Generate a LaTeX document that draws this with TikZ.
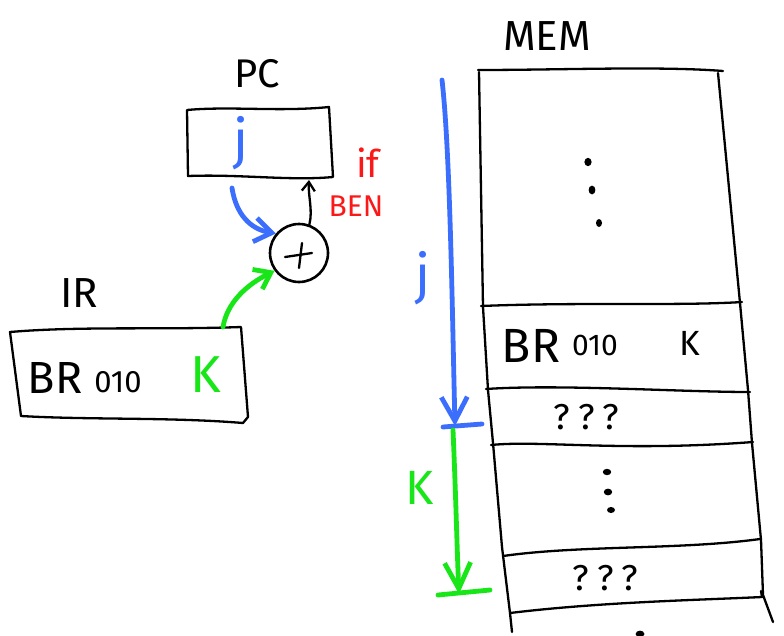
\documentclass[tikz,border=0pt]{standalone}
\usepackage{fontspec}
\setmainfont{Fira Sans}
\usetikzlibrary{arrows.meta,calc}
\definecolor{penblue}{RGB}{59,110,252}
\definecolor{pengreen}{RGB}{24,230,24}
\definecolor{penred}{RGB}{250,24,24}
\tikzset{
  ink/.style={line width=2.3pt, line cap=round, line join=round},
  thickpen/.style={line width=4.8pt, line cap=round, line join=round},
  lbl/.style={inner sep=0pt, font=\fontsize{#1}{#1}\selectfont},
  hole/.style={draw=none, inner sep=0pt, minimum width=#1},
  dot/.style={fill=black, draw=none},
}
\begin{document}
\begin{tikzpicture}[x=1pt,y=-1pt]
\useasboundingbox (0,0) rectangle (784,635);

% ---------------- PC register ----------------
\node[lbl=40] (pclabel) at (257,74) {PC};
\node[hole=146pt, minimum height=69pt] (pc) at (260,143) {};
\draw[ink] (187,110) .. controls (230,106) and (280,112) .. (329,107)
           -- (333,177) .. controls (290,181) and (240,174) .. (188,176) -- cycle;
\node[lbl=54, text=penblue] (pcj) at (241,143) {j};

% adder
\node[draw, line width=2.6pt, circle, minimum size=58pt, inner sep=0pt] (sum) at (299,253) {};
\draw[ink] (285,257) -- (312,253);
\draw[ink] (302,243) -- (299,268);

% PC -> adder
\coordinate (pcout) at (232,188);
\draw[thickpen, penblue, -{Straight Barb[length=17pt,width=24pt]}]
  (pcout) .. controls (236,214) and (250,229) .. (sum.140);

% adder -> PC
\coordinate (pcin) at (309,180);
\draw[ink, -{Straight Barb[length=9pt,width=13pt]}]
  (sum.70) .. controls (313,210) and (308,196) .. (pcin);
\node[lbl=38, text=penred] (ifl) at (368,163) {if};
\node[lbl=30, text=penred] (benl) at (356,206) {BEN};

% ---------------- IR register ----------------
\node[lbl=42] (irlabel) at (79,293) {IR};
\node[hole=235pt, minimum height=90pt] (ir) at (128,373) {};
\draw[ink] (10,332) .. controls (80,326) and (160,330) .. (241,327)
           -- (248,417) .. controls (246,420) and (244,421) .. (243,423)
           .. controls (170,417) and (90,420) .. (21,416) -- cycle;
\node[lbl=45] (irop) at (55,378) {BR};
\node[lbl=31] (irbits) at (118,382) {010};
\node[lbl=52, text=pengreen] (irk) at (206,375) {K};

% IR offset -> adder
\coordinate (irtap) at (223,327);
\draw[thickpen, pengreen, -{Straight Barb[length=15pt,width=22pt]}]
  (irtap) .. controls (227,303) and (246,285) .. (sum.216);

% ---------------- memory ----------------
\node[lbl=42] (memlabel) at (547,36) {MEM};
\node[hole=260pt, minimum height=560pt] (mem) at (625,350) {};
% column sides
\draw[ink] (479,72) -- (483,307) -- (488,390) -- (493,443) -- (502,547) -- (510,613) -- (512,632);
\draw[ink] (718,73) -- (740,303) -- (748,390) -- (752,443) -- (761,540) -- (763,595) -- (773,622);
% row boundaries
\draw[ink] (478,70) .. controls (560,70) and (660,66) .. (723,71);
\draw[ink] (481,306) .. controls (580,302) and (680,306) .. (742,302);
\draw[ink] (486,389) .. controls (560,384) and (680,392) .. (750,392);
\draw[ink] (491,445) .. controls (540,440) and (620,452) .. (753,442);
\draw[ink] (503,556) .. controls (580,545) and (680,550) .. (760,539);
\draw[ink] (510,613) .. controls (600,602) and (700,600) .. (762,597) -- (761,591);

% top block ellipsis
\fill[dot] (588,162) ellipse (3.6 and 4.2);
\fill[dot] (592,190) ellipse (3.4 and 4.4);
\fill[dot] (599,223) ellipse (3 and 4);
% stored instruction
\node[lbl=48] (memop) at (531,346) {BR};
\node[lbl=30] (membits) at (595,345) {010};
\node[lbl=35] (memk) at (690,343) {K};
% unknown words
\node[lbl=36] (q1) at (586,417) {?\hspace{9pt}?\hspace{7pt}?};
\fill[dot] (607,472) ellipse (4.2 and 3.2);
\fill[dot] (608,492) ellipse (4.2 and 3.4);
\fill[dot] (611,510) ellipse (4 and 3);
\node[lbl=36] (q2) at (605,578) {?\hspace{9pt}?\hspace{7pt}?};
\fill[dot] (640,634) ellipse (4.4 and 3.4);

% distance markers
\coordinate (jtop) at (442,80);
\coordinate (jend) at (455,426);
\coordinate (kend) at (459,594);
\draw[thickpen, penblue, -{Straight Barb[length=24pt,width=26pt]}]
  (jtop) .. controls (450,150) and (452,300) .. (jend);
\draw[thickpen, penblue] (443,427) -- (482,424);
\node[lbl=54, text=penblue] (jdist) at (423,278) {j};
\draw[thickpen, pengreen, -{Straight Barb[length=26pt,width=26pt]}]
  (453,430) .. controls (456,500) and (457,550) .. (kend);
\draw[thickpen, pengreen] (438,595) -- (490,590);
\node[lbl=48, text=pengreen] (kdist) at (420,488) {K};
\end{tikzpicture}
\end{document}
